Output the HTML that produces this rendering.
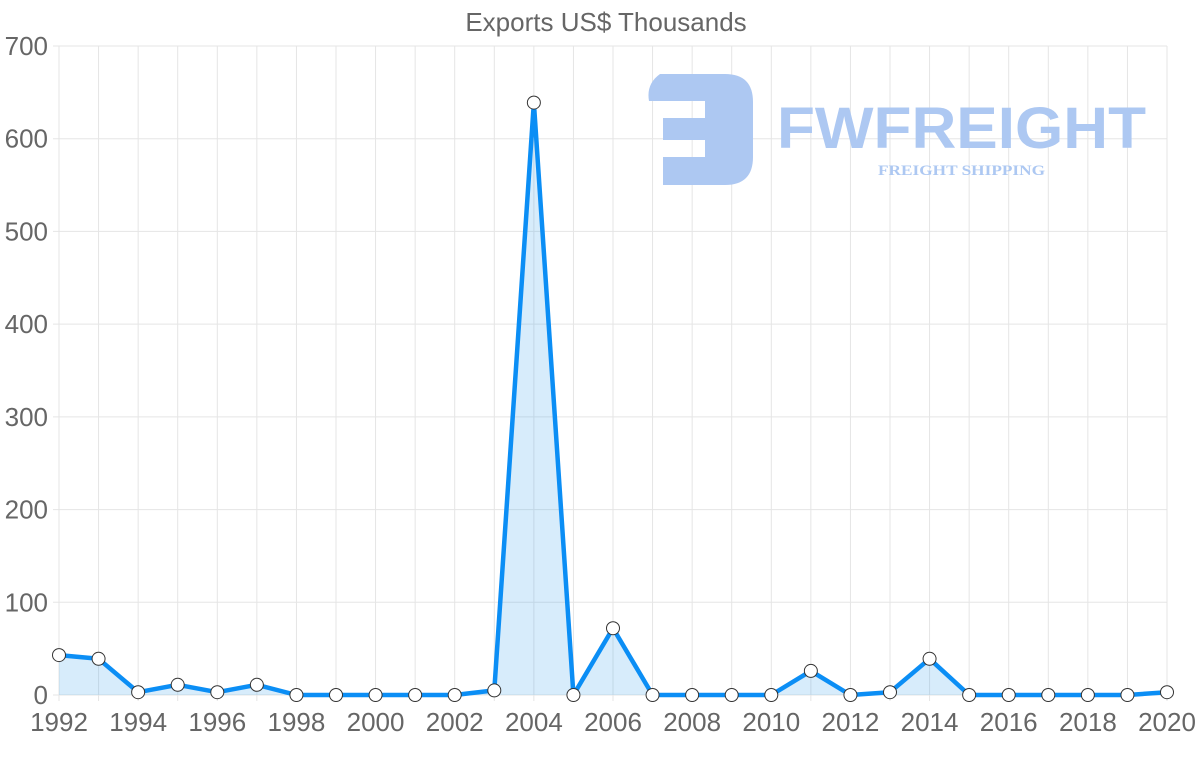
<!DOCTYPE html>
<html><head><style>body{margin:0;background:#fff}svg{display:block}</style></head><body>
<svg width="1200" height="763" xmlns="http://www.w3.org/2000/svg" font-family="Liberation Sans, sans-serif">
<rect width="1200" height="763" fill="#fff"/>
<text x="606" y="31" text-anchor="middle" font-size="26" fill="#666">Exports US$ Thousands</text>
<g stroke="#e5e5e5" stroke-width="1">
<line x1="59" y1="46" x2="59" y2="701"/><line x1="98.57" y1="46" x2="98.57" y2="701"/><line x1="138.14" y1="46" x2="138.14" y2="701"/><line x1="177.71" y1="46" x2="177.71" y2="701"/><line x1="217.29" y1="46" x2="217.29" y2="701"/><line x1="256.86" y1="46" x2="256.86" y2="701"/><line x1="296.43" y1="46" x2="296.43" y2="701"/><line x1="336" y1="46" x2="336" y2="701"/><line x1="375.57" y1="46" x2="375.57" y2="701"/><line x1="415.14" y1="46" x2="415.14" y2="701"/><line x1="454.71" y1="46" x2="454.71" y2="701"/><line x1="494.29" y1="46" x2="494.29" y2="701"/><line x1="533.86" y1="46" x2="533.86" y2="701"/><line x1="573.43" y1="46" x2="573.43" y2="701"/><line x1="613" y1="46" x2="613" y2="701"/><line x1="652.57" y1="46" x2="652.57" y2="701"/><line x1="692.14" y1="46" x2="692.14" y2="701"/><line x1="731.71" y1="46" x2="731.71" y2="701"/><line x1="771.29" y1="46" x2="771.29" y2="701"/><line x1="810.86" y1="46" x2="810.86" y2="701"/><line x1="850.43" y1="46" x2="850.43" y2="701"/><line x1="890" y1="46" x2="890" y2="701"/><line x1="929.57" y1="46" x2="929.57" y2="701"/><line x1="969.14" y1="46" x2="969.14" y2="701"/><line x1="1008.71" y1="46" x2="1008.71" y2="701"/><line x1="1048.29" y1="46" x2="1048.29" y2="701"/><line x1="1087.86" y1="46" x2="1087.86" y2="701"/><line x1="1127.43" y1="46" x2="1127.43" y2="701"/><line x1="1167" y1="46" x2="1167" y2="701"/>
<line x1="53" y1="695" x2="1167" y2="695"/><line x1="53" y1="602.3" x2="1167" y2="602.3"/><line x1="53" y1="509.6" x2="1167" y2="509.6"/><line x1="53" y1="416.9" x2="1167" y2="416.9"/><line x1="53" y1="324.1" x2="1167" y2="324.1"/><line x1="53" y1="231.4" x2="1167" y2="231.4"/><line x1="53" y1="138.7" x2="1167" y2="138.7"/><line x1="53" y1="46" x2="1167" y2="46"/>
</g>
<g fill="#adc8f2">
<path d="M660 74 H725 Q753 74 753 102 V157 Q753 185 725 185 H663 V157 H705 V140 H663 V118 H705 V101 H649 Q646 84 660 74 Z"/>
<text x="777" y="148" font-size="58" font-weight="bold" textLength="369" lengthAdjust="spacingAndGlyphs">FWFREIGHT</text>
<text x="878" y="175" font-size="15" font-weight="bold" font-family="Liberation Serif, serif" textLength="167" lengthAdjust="spacingAndGlyphs">FREIGHT SHIPPING</text>
</g>
<path d="M59 655.1 L98.57 658.8 L138.14 692.2 L177.71 684.8 L217.29 692.2 L256.86 684.8 L296.43 695 L336 695 L375.57 695 L415.14 695 L454.71 695 L494.29 690.4 L533.86 102.6 L573.43 695 L613 628.2 L652.57 695 L692.14 695 L731.71 695 L771.29 695 L810.86 670.9 L850.43 695 L890 692.2 L929.57 658.8 L969.14 695 L1008.71 695 L1048.29 695 L1087.86 695 L1127.43 695 L1167 692.2 L1167 695 L59 695 Z" fill="rgba(54,162,235,0.2)"/>
<path d="M59 655.1 L98.57 658.8 L138.14 692.2 L177.71 684.8 L217.29 692.2 L256.86 684.8 L296.43 695 L336 695 L375.57 695 L415.14 695 L454.71 695 L494.29 690.4 L533.86 102.6 L573.43 695 L613 628.2 L652.57 695 L692.14 695 L731.71 695 L771.29 695 L810.86 670.9 L850.43 695 L890 692.2 L929.57 658.8 L969.14 695 L1008.71 695 L1048.29 695 L1087.86 695 L1127.43 695 L1167 692.2" fill="none" stroke="#0b8ef5" stroke-width="4.5" stroke-linejoin="round"/>
<g fill="#fff" stroke="#333" stroke-width="1">
<circle cx="59" cy="655.1" r="6.5"/><circle cx="98.57" cy="658.8" r="6.5"/><circle cx="138.14" cy="692.2" r="6.5"/><circle cx="177.71" cy="684.8" r="6.5"/><circle cx="217.29" cy="692.2" r="6.5"/><circle cx="256.86" cy="684.8" r="6.5"/><circle cx="296.43" cy="695" r="6.5"/><circle cx="336" cy="695" r="6.5"/><circle cx="375.57" cy="695" r="6.5"/><circle cx="415.14" cy="695" r="6.5"/><circle cx="454.71" cy="695" r="6.5"/><circle cx="494.29" cy="690.4" r="6.5"/><circle cx="533.86" cy="102.6" r="6.5"/><circle cx="573.43" cy="695" r="6.5"/><circle cx="613" cy="628.2" r="6.5"/><circle cx="652.57" cy="695" r="6.5"/><circle cx="692.14" cy="695" r="6.5"/><circle cx="731.71" cy="695" r="6.5"/><circle cx="771.29" cy="695" r="6.5"/><circle cx="810.86" cy="670.9" r="6.5"/><circle cx="850.43" cy="695" r="6.5"/><circle cx="890" cy="692.2" r="6.5"/><circle cx="929.57" cy="658.8" r="6.5"/><circle cx="969.14" cy="695" r="6.5"/><circle cx="1008.71" cy="695" r="6.5"/><circle cx="1048.29" cy="695" r="6.5"/><circle cx="1087.86" cy="695" r="6.5"/><circle cx="1127.43" cy="695" r="6.5"/><circle cx="1167" cy="692.2" r="6.5"/>
</g>
<g font-size="26" fill="#666" text-anchor="end">
<text x="48" y="704">0</text><text x="48" y="611.3">100</text><text x="48" y="518.6">200</text><text x="48" y="425.9">300</text><text x="48" y="333.1">400</text><text x="48" y="240.4">500</text><text x="48" y="147.7">600</text><text x="48" y="55">700</text>
</g>
<g font-size="26" fill="#666" text-anchor="middle">
<text x="59" y="731">1992</text><text x="138.14" y="731">1994</text><text x="217.29" y="731">1996</text><text x="296.43" y="731">1998</text><text x="375.57" y="731">2000</text><text x="454.71" y="731">2002</text><text x="533.86" y="731">2004</text><text x="613" y="731">2006</text><text x="692.14" y="731">2008</text><text x="771.29" y="731">2010</text><text x="850.43" y="731">2012</text><text x="929.57" y="731">2014</text><text x="1008.71" y="731">2016</text><text x="1087.86" y="731">2018</text><text x="1167" y="731">2020</text>
</g>
</svg>
</body></html>
